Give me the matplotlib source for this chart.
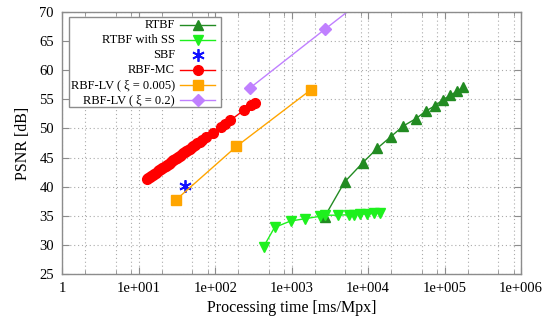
import numpy as np
import matplotlib
matplotlib.use("Agg")
import matplotlib.pyplot as plt
from matplotlib.lines import Line2D
from matplotlib.patches import Rectangle
from matplotlib.ticker import FixedLocator, NullFormatter

plt.rcParams['font.family'] = ['Liberation Serif', 'DejaVu Serif']

# --- data (x: ms/Mpx, y: PSNR dB) ---
rtbf_x = [2690, 4920, 8500, 13200, 19900, 28700, 42400, 57200, 75000, 94200, 118600, 147000, 175000]
rtbf_y = [34.8, 40.8, 44.1, 46.6, 48.6, 50.4, 51.7, 53.0, 53.9, 54.9, 55.7, 56.4, 57.1]

ss_x = [430, 598, 968, 1505, 2316, 2750, 4100, 5700, 6600, 7900, 9700, 11800, 14500]
ss_y = [29.7, 33.0, 34.1, 34.5, 34.9, 35.1, 35.1, 35.2, 35.2, 35.3, 35.3, 35.4, 35.5]

sbf_x = [40.2]
sbf_y = [40.2]

mc_x = [12.7, 13.3, 14.0, 14.6, 15.3, 16.0, 16.8, 17.6, 18.5, 19.4, 20.3, 21.3, 22.4,
        23.5, 24.6, 25.8, 27.1, 28.4, 29.8, 31.3, 32.9, 34.5, 36.2, 38.0, 39.9, 42.0,
        44.2, 46.6, 49.2, 52.0, 55.1, 58.6, 62.5, 67.0, 76.8, 93.5, 120, 135, 158,
        235, 296, 328]
mc_y = [41.30, 41.49, 41.69, 41.86, 42.05, 42.23, 42.43, 42.61, 42.81, 43.01, 43.19,
        43.38, 43.58, 43.78, 43.96, 44.15, 44.35, 44.54, 44.73, 44.93, 45.13, 45.32,
        45.52, 45.71, 45.91, 46.11, 46.32, 46.53, 46.75, 46.97, 47.21, 47.45, 47.71,
        47.99, 48.54, 49.30, 50.30, 50.80, 51.40, 53.10, 54.00, 54.40]

lv005_x = [30.5, 189, 1766]
lv005_y = [37.7, 46.9, 56.6]

lv02_x = [282, 2700, 27000]
lv02_y = [56.9, 67.0, 77.2]

xtick_vals = [1, 1e1, 1e2, 1e3, 1e4, 1e5, 1e6]
xtick_labels = ['1', '1e+001', '1e+002', '1e+003', '1e+004', '1e+005', '1e+006']
ytick_vals = [25, 30, 35, 40, 45, 50, 55, 60, 65, 70]

series = [
    ("RTBF", rtbf_x, rtbf_y, dict(color='#228b22', marker='^', ms=6.5, lw=1.0)),
    ("RTBF with SS", ss_x, ss_y, dict(color='#1ef01e', marker='v', ms=6.5, lw=1.0)),
    ("SBF", sbf_x, sbf_y, dict(color='#1010ff', marker=(6, 2, 0), ms=9, lw=0, mew=1.3)),
    ("RBF-MC", mc_x, mc_y, dict(color='#ff0000', marker='o', ms=7, lw=1.0)),
    ("RBF-LV ( \u03be = 0.005)", lv005_x, lv005_y, dict(color='#ffa500', marker='s', ms=6.5, lw=1.0)),
    ("RBF-LV ( \u03be = 0.2)", lv02_x, lv02_y, dict(color='#c080ff', marker='D', ms=6, lw=1.0)),
]

fig = plt.figure(figsize=(5.53, 3.24), dpi=100)
ax = fig.add_axes([62.3 / 553, 1 - 274 / 324, 458.7 / 553, 262 / 324])

for name, xs, ys, st in series:
    ax.plot(xs, ys, linestyle='-' if st['lw'] > 0 else 'none', **st)

ax.set_xscale('log')
ax.set_xlim(1, 1e6)
ax.set_ylim(25, 70)

minor = [m * 10 ** d for d in range(6) for m in (2, 5, 8)]
ax.xaxis.set_major_locator(FixedLocator(xtick_vals))
ax.xaxis.set_minor_locator(FixedLocator(minor))
ax.xaxis.set_minor_formatter(NullFormatter())
ax.set_xticklabels(xtick_labels)
ax.set_yticks(ytick_vals)

grid_kw = dict(color='#aaaaaa', linestyle=(0, (1, 2.5)), linewidth=0.8)
ax.grid(True, which='major', **grid_kw)
ax.grid(True, which='minor', axis='x', **grid_kw)

for sp in ax.spines.values():
    sp.set_color('#8c8c8c')
    sp.set_linewidth(1.0)
ax.tick_params(which='both', direction='in', top=True, right=True, color='#8c8c8c',
               labelsize=10.5, pad=6)
ax.tick_params(which='major', length=5)
ax.tick_params(which='minor', length=3)

ax.set_xlabel('Processing time [ms/Mpx]', fontsize=11.5, labelpad=3)
ax.set_ylabel('PSNR [dB]', fontsize=11.5, labelpad=6)

# gnuplot-style key: right-aligned text, sample on the right
ax.add_patch(Rectangle((0.0153, 0.636), 0.3307, 0.344, transform=ax.transAxes,
                       facecolor='white', edgecolor='#8c8c8c', lw=1.0, zorder=5))
for i, (name, xs, ys, st) in enumerate(series):
    yy = 1 - (13 + 15 * i) / 262
    ax.text(0.2457, yy, name, transform=ax.transAxes, ha='right', va='center',
            fontsize=9, zorder=6)
    if st['lw'] > 0:
        ax.add_line(Line2D([0.2566, 0.3329], [yy, yy], transform=ax.transAxes,
                           color=st['color'], lw=st['lw'], zorder=6))
    ax.add_line(Line2D([0.2948], [yy], transform=ax.transAxes, color=st['color'],
                       marker=st['marker'], ms=st['ms'], mew=st.get('mew', 1.0),
                       linestyle='none', zorder=7))

fig.savefig('out.png', dpi=100)
